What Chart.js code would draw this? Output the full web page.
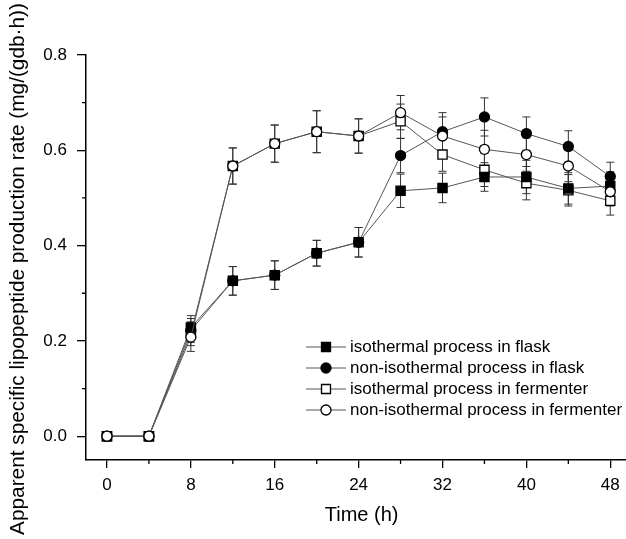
<!DOCTYPE html>
<html>
<head>
<meta charset="utf-8">
<script src="https://cdn.jsdelivr.net/npm/chart.js@4.4.0/dist/chart.umd.min.js"></script>
<style>
  html, body { margin: 0; padding: 0; background: #fff; }
  #wrap { width: 626px; height: 539px; }
</style>
</head>
<body>
<div id="wrap"><canvas id="c" width="626" height="539"></canvas></div>
<script>
// time points (h)
const times = [0, 4, 8, 12, 16, 20, 24, 28, 32, 36, 40, 44, 48];

// mean production rate, mg/(gdb·h)
const isoFlask     = [0, 0, 0.228, 0.326, 0.338, 0.384, 0.407, 0.515, 0.521, 0.544, 0.544, 0.520, 0.525];
const nonIsoFlask  = [0, 0, 0.222, 0.326, 0.338, 0.384, 0.407, 0.589, 0.639, 0.670, 0.635, 0.608, 0.545];
const isoFerm      = [0, 0, 0.215, 0.567, 0.614, 0.639, 0.630, 0.661, 0.591, 0.559, 0.531, 0.516, 0.494];
const nonIsoFerm   = [0, 0, 0.208, 0.567, 0.614, 0.639, 0.630, 0.679, 0.630, 0.602, 0.591, 0.567, 0.513];

// error bar half-heights
const isoFlaskErr    = [0, 0, 0.025, 0.030, 0.030, 0.027, 0.031, 0.035, 0.031, 0.030, 0.035, 0.033, 0.030];
const nonIsoFlaskErr = [0, 0, 0.025, 0.030, 0.030, 0.027, 0.031, 0.036, 0.040, 0.040, 0.035, 0.033, 0.030];
const isoFermErr     = [0, 0, 0.025, 0.038, 0.039, 0.044, 0.036, 0.036, 0.035, 0.035, 0.035, 0.033, 0.030];
const nonIsoFermErr  = [0, 0, 0.030, 0.038, 0.039, 0.044, 0.036, 0.036, 0.040, 0.040, 0.035, 0.033, 0.030];

const seriesLabels = [
  'isothermal process in flask',
  'non-isothermal process in flask',
  'isothermal process in fermenter',
  'non-isothermal process in fermenter'
];

// axis ticks
const xTicks = [0, 8, 16, 24, 32, 40, 48];
const xMinorTicks = [4, 12, 20, 28, 36, 44];
const yTicks = [0, 0.2, 0.4, 0.6, 0.8];
const yMinorTicks = [0.1, 0.3, 0.5, 0.7];

const xTitle = 'Time (h)';
const yTitle = 'Apparent specific lipopeptide production rate (mg/(gdb·h))';

const FONT = '"Liberation Sans", Arial, sans-serif';
const LINE_COLOR = '#555';

function toPoints(vals) {
  return times.map((t, i) => ({ x: t, y: vals[i] }));
}

function makeSet(label, vals, errs, style, filled, order) {
  return {
    label,
    data: toPoints(vals),
    errs,
    borderColor: LINE_COLOR,
    borderWidth: 1,
    pointStyle: style,
    pointRadius: style === 'rect' ? 6.5 : 5,
    pointBorderColor: '#000',
    pointBorderWidth: 1.3,
    pointBackgroundColor: filled ? '#000' : '#fff',
    tension: 0,
    fill: false,
    clip: false,
    order
  };
}

const datasets = [
  makeSet(seriesLabels[0], isoFlask, isoFlaskErr, 'rect', true, 1),
  makeSet(seriesLabels[1], nonIsoFlask, nonIsoFlaskErr, 'circle', true, 3),
  makeSet(seriesLabels[2], isoFerm, isoFermErr, 'rect', false, 2),
  makeSet(seriesLabels[3], nonIsoFerm, nonIsoFermErr, 'circle', false, 0)
];

// error bars, minor ticks, axis titles and the inset legend
const extras = {
  id: 'extras',
  beforeDatasetsDraw(chart) {
    const ctx = chart.ctx;
    const xs = chart.scales.x, ys = chart.scales.y;
    ctx.save();
    ctx.strokeStyle = '#333';
    ctx.lineWidth = 1;
    chart.data.datasets.forEach(ds => {
      ds.data.forEach((p, j) => {
        const e = ds.errs[j];
        if (!e) return;
        const x = xs.getPixelForValue(p.x);
        const y1 = ys.getPixelForValue(p.y + e);
        const y2 = ys.getPixelForValue(p.y - e);
        ctx.beginPath();
        ctx.moveTo(x, y1); ctx.lineTo(x, y2);
        ctx.moveTo(x - 4, y1); ctx.lineTo(x + 4, y1);
        ctx.moveTo(x - 4, y2); ctx.lineTo(x + 4, y2);
        ctx.stroke();
      });
    });
    ctx.restore();
  },
  afterDraw(chart) {
    const ctx = chart.ctx;
    const xs = chart.scales.x, ys = chart.scales.y;
    const area = chart.chartArea;
    ctx.save();
    ctx.strokeStyle = '#000';
    ctx.lineWidth = 1.3;
    ctx.beginPath();
    xMinorTicks.forEach(v => {
      const x = xs.getPixelForValue(v);
      ctx.moveTo(x, area.bottom); ctx.lineTo(x, area.bottom + 4);
    });
    yMinorTicks.forEach(v => {
      const y = ys.getPixelForValue(v);
      ctx.moveTo(area.left - 4, y); ctx.lineTo(area.left, y);
    });
    ctx.stroke();

    // axis titles, placed where the original has them
    ctx.fillStyle = '#000';
    ctx.textAlign = 'center';
    ctx.textBaseline = 'middle';
    ctx.font = '20px ' + FONT;
    ctx.fillText(xTitle, (xs.getPixelForValue(0) + xs.getPixelForValue(48)) / 2 + 3, 515);

    ctx.save();
    ctx.translate(18, 269);
    ctx.rotate(-Math.PI / 2);
    ctx.font = '20.8px ' + FONT;
    ctx.fillText(yTitle, 0, 0);
    ctx.restore();

    // legend
    const lx = 306, rowY = 347, rowH = 21;
    ctx.font = '17px ' + FONT;
    ctx.textBaseline = 'middle';
    ctx.textAlign = 'left';
    chart.data.datasets.forEach((ds, i) => {
      const y = rowY + i * rowH;
      ctx.strokeStyle = LINE_COLOR;
      ctx.lineWidth = 1;
      ctx.beginPath();
      ctx.moveTo(lx, y); ctx.lineTo(lx + 40, y);
      ctx.stroke();
      ctx.fillStyle = ds.pointBackgroundColor;
      ctx.strokeStyle = '#000';
      ctx.lineWidth = 1.3;
      ctx.beginPath();
      if (ds.pointStyle === 'rect') {
        ctx.rect(lx + 20 - 4.5, y - 4.5, 9, 9);
      } else {
        ctx.arc(lx + 20, y, 5, 0, Math.PI * 2);
      }
      ctx.fill();
      ctx.stroke();
      ctx.fillStyle = '#000';
      ctx.fillText(ds.label, lx + 44, y);
    });
    ctx.restore();
  }
};

new Chart(document.getElementById('c'), {
  type: 'line',
  data: { datasets },
  plugins: [extras],
  options: {
    responsive: false,
    animation: false,
    layout: { autoPadding: false, padding: { top: 55, right: 0, bottom: 0, left: 0 } },
    plugins: { legend: { display: false }, tooltip: { enabled: false } },
    scales: {
      x: {
        type: 'linear',
        min: -2,
        max: 49.5,
        afterBuildTicks: s => { s.ticks = xTicks.map(v => ({ value: v })); },
        afterFit: s => { s.height = 79; s.paddingLeft = 0; s.paddingRight = 0; },
        grid: { display: true, drawOnChartArea: false, drawTicks: true, tickLength: 8, color: '#000', lineWidth: 1.3 },
        border: { display: true, color: '#000', width: 1.5 },
        ticks: { color: '#000', font: { family: FONT, size: 17 }, padding: 7, maxRotation: 0, autoSkip: false },
        title: { display: false }
      },
      y: {
        type: 'linear',
        min: -0.05,
        max: 0.8,
        afterBuildTicks: s => { s.ticks = yTicks.map(v => ({ value: v })); },
        afterFit: s => { s.width = 86; s.paddingTop = 0; s.paddingBottom = 0; },
        grid: { display: true, drawOnChartArea: false, drawTicks: true, tickLength: 9, color: '#000', lineWidth: 1.3 },
        border: { display: true, color: '#000', width: 1.5 },
        ticks: { color: '#000', font: { family: FONT, size: 17 }, padding: 10, callback: v => v.toFixed(1) },
        title: { display: false }
      }
    }
  }
});
</script>
</body>
</html>
